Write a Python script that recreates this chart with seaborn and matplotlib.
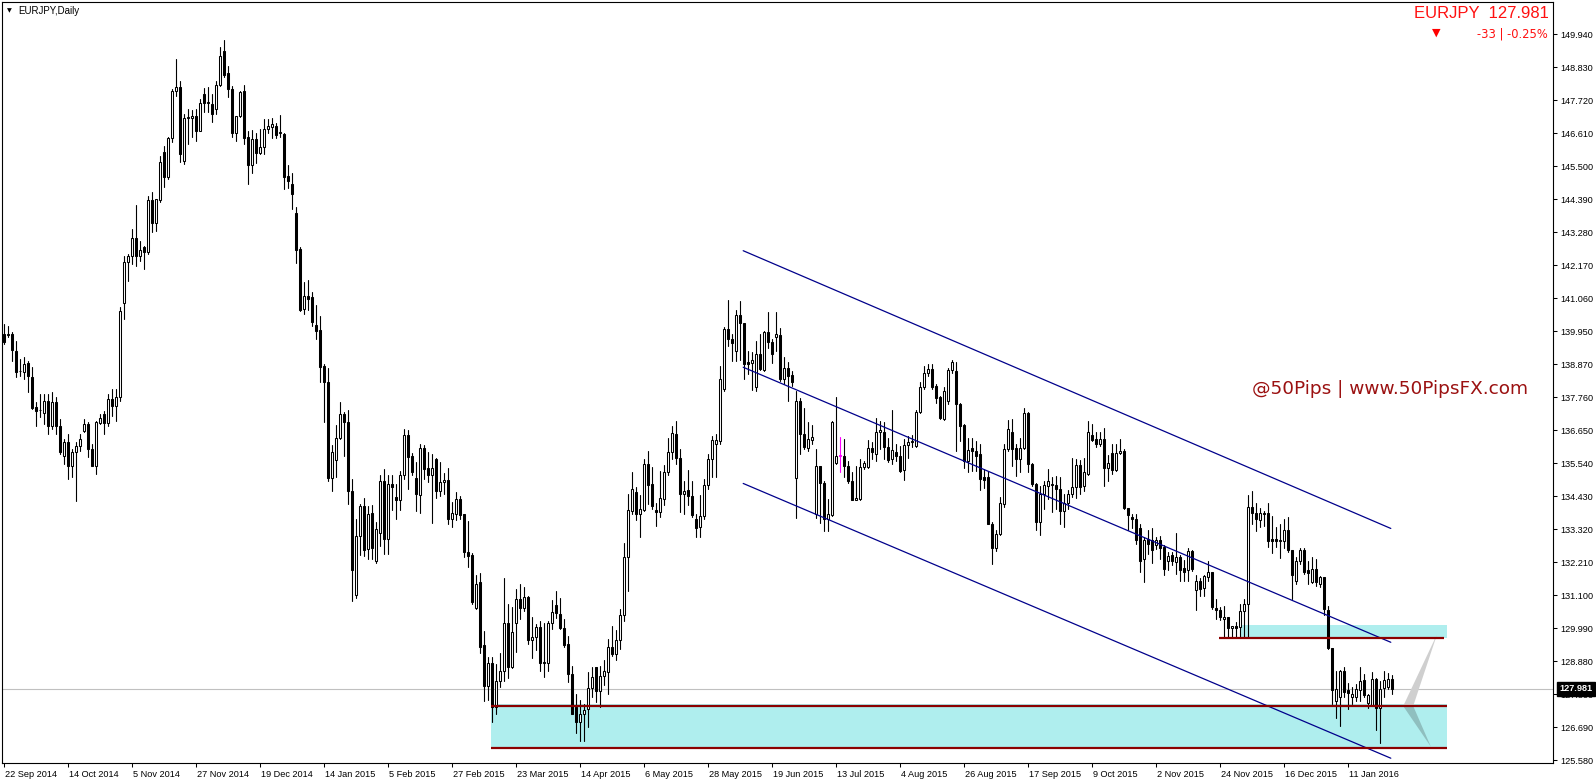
import numpy as np
import pandas as pd
import matplotlib
matplotlib.use("Agg")
import matplotlib.pyplot as plt
import matplotlib.transforms as mtransforms
from matplotlib.patches import Polygon
import seaborn as sns

# ---------------- data (EURJPY daily) ----------------
opens = [
    139.88, 139.84, 139.88, 139.33, 138.63, 138.60, 138.90, 138.43, 137.42, 137.32,
    137.23, 137.65, 136.81, 137.59, 136.81, 135.80, 136.25, 135.47, 135.91, 136.14,
    136.64, 136.86, 136.03, 135.47, 136.89, 137.20, 136.89, 137.70, 137.48, 137.78,
    140.93, 142.29, 142.51, 143.10, 142.51, 142.79, 142.62, 144.38, 143.60, 144.38,
    145.98, 145.16, 146.46, 148.05, 148.18, 145.70, 147.13, 147.13, 147.21, 146.71,
    147.94, 147.63, 147.60, 147.43, 148.25, 149.39, 148.63, 148.11, 146.62, 147.21,
    148.05, 146.51, 145.57, 146.42, 145.96, 146.15, 146.77, 146.84, 146.86, 146.62,
    146.60, 145.19, 144.93, 143.94, 142.75, 140.73, 141.16, 141.12, 140.18, 140.03,
    138.81, 138.29, 135.04, 135.66, 136.40, 137.20, 136.94, 134.60, 131.14, 133.09,
    134.12, 132.68, 133.89, 132.26, 133.22, 134.95, 132.99, 134.86, 134.41, 134.31,
    135.15, 136.49, 135.79, 135.04, 134.48, 136.05, 135.38, 135.17, 135.68, 134.63,
    134.92, 134.99, 133.67, 133.86, 134.35, 133.84, 132.58, 132.48, 130.69, 131.55,
    129.46, 128.08, 128.86, 127.38, 128.25, 128.56, 130.20, 128.70, 130.20, 130.99,
    130.69, 131.07, 129.61, 129.72, 130.04, 128.88, 128.86, 130.20, 130.80, 130.49,
    130.01, 129.48, 128.49, 127.38, 126.88, 127.15, 127.30, 128.02, 128.70, 127.91,
    128.42, 128.53, 129.39, 129.14, 129.61, 130.46, 132.41, 133.95, 134.57, 133.86,
    133.97, 135.52, 134.85, 133.97, 133.90, 134.34, 135.27, 135.91, 136.53, 135.72,
    134.53, 134.64, 134.46, 133.67, 133.42, 133.78, 134.82, 135.69, 136.21, 136.28,
    138.03, 140.05, 139.71, 139.30, 140.53, 140.24, 138.93, 138.90, 138.11, 139.21,
    138.67, 139.94, 139.63, 139.79, 139.86, 138.37, 138.74, 138.52, 135.05, 137.64,
    136.52, 136.05, 136.32, 133.84, 135.46, 134.90, 133.67, 133.82, 135.54, 135.78,
    135.80, 135.46, 134.96, 134.31, 134.34, 135.41, 135.41, 136.05, 135.85, 136.61,
    136.61, 136.10, 135.69, 135.91, 135.80, 135.32, 136.17, 136.25, 136.13, 137.28,
    138.11, 138.56, 138.70, 138.14, 137.77, 137.03, 137.62, 138.67, 138.65, 137.55,
    136.84, 135.63, 136.05, 135.96, 135.85, 135.07, 135.07, 133.52, 132.72, 133.17,
    134.17, 136.02, 136.58, 136.05, 135.68, 136.05, 137.22, 135.52, 134.84, 133.56,
    134.51, 134.79, 134.82, 134.82, 134.68, 133.95, 134.20, 134.53, 134.75, 135.49,
    134.79, 135.20, 136.50, 136.35, 136.21, 136.35, 135.40, 135.90, 135.32, 135.90,
    135.96, 134.04, 133.73, 133.67, 133.39, 132.33, 133.00, 132.97, 132.82, 132.97,
    132.75, 132.26, 132.48, 132.22, 132.41, 132.03, 131.97, 132.59, 131.30, 131.61,
    131.36, 131.72, 131.89, 130.69, 130.62, 130.32, 130.38, 130.02, 130.07, 130.04,
    130.60, 130.83, 134.09, 133.87, 133.65, 133.87, 133.87, 133.01, 133.01, 132.93,
    132.95, 133.31, 132.62, 131.59, 132.28, 132.64, 131.97, 131.55, 132.00, 131.50,
    131.72, 130.62, 129.35, 127.58, 127.69, 128.59, 127.94, 127.69, 127.69, 127.94,
    128.28, 127.49, 127.45, 128.30, 127.32, 128.00, 128.03, 128.30,
]
highs = [
    140.22, 140.16, 139.94, 139.66, 139.04, 139.10, 138.99, 138.77, 137.59, 137.87,
    137.87, 137.87, 137.93, 137.76, 137.03, 136.36, 136.53, 136.03, 136.25, 136.53,
    137.03, 136.92, 136.19, 136.98, 137.20, 137.31, 137.87, 138.04, 138.04, 140.78,
    142.51, 142.57, 143.41, 144.22, 143.02, 142.85, 144.53, 144.64, 144.42, 145.87,
    146.20, 146.48, 148.11, 149.11, 148.39, 147.27, 147.43, 147.40, 147.43, 147.77,
    148.14, 148.18, 147.94, 148.36, 149.50, 149.75, 148.89, 148.22, 147.21, 148.05,
    148.24, 146.70, 146.73, 146.64, 146.77, 147.09, 147.11, 147.15, 146.96, 147.22,
    146.64, 145.55, 145.29, 144.14, 142.79, 141.63, 141.70, 141.31, 140.86, 140.48,
    138.87, 138.74, 136.17, 136.82, 137.61, 137.26, 137.33, 135.02, 133.67, 134.18,
    134.38, 134.12, 134.14, 133.58, 135.17, 135.34, 135.17, 135.15, 134.86, 135.30,
    136.69, 136.66, 135.89, 135.60, 136.20, 136.15, 135.92, 135.85, 135.72, 135.60,
    135.21, 135.38, 134.25, 134.57, 134.44, 133.86, 133.60, 132.55, 131.80, 131.88,
    129.93, 129.03, 129.05, 128.81, 129.17, 131.71, 130.84, 130.71, 131.32, 131.49,
    131.40, 131.10, 130.40, 130.15, 130.24, 130.20, 130.24, 130.95, 131.27, 131.04,
    130.32, 129.76, 128.75, 127.80, 127.60, 127.46, 128.53, 128.70, 128.72, 128.75,
    128.94, 129.65, 130.09, 129.95, 130.65, 132.86, 134.51, 135.24, 134.74, 134.49,
    135.69, 135.97, 135.41, 134.23, 135.29, 135.50, 136.39, 136.80, 136.95, 136.02,
    134.96, 135.32, 134.96, 133.84, 134.49, 135.02, 135.85, 136.47, 136.53, 138.82,
    140.13, 141.02, 139.88, 140.69, 141.00, 140.27, 139.30, 139.27, 139.66, 139.88,
    139.97, 140.64, 139.71, 140.61, 140.10, 139.12, 138.93, 138.65, 137.98, 137.73,
    137.40, 136.92, 136.84, 136.02, 135.46, 134.96, 134.34, 136.97, 137.78, 136.43,
    136.36, 135.63, 135.24, 135.46, 135.69, 135.63, 136.32, 136.25, 137.08, 136.97,
    136.92, 136.41, 137.33, 136.19, 136.13, 136.36, 136.47, 136.50, 137.33, 138.26,
    138.82, 138.87, 138.87, 138.20, 137.81, 138.09, 138.74, 139.01, 138.93, 137.58,
    136.86, 136.39, 136.39, 136.30, 136.19, 135.35, 135.29, 133.56, 133.30, 134.40,
    136.19, 136.99, 137.02, 136.19, 136.41, 137.40, 137.28, 135.57, 134.90, 134.79,
    134.96, 135.35, 135.07, 135.12, 135.07, 134.51, 134.64, 135.71, 135.68, 135.65,
    135.71, 136.95, 136.88, 136.61, 136.58, 136.72, 135.83, 136.19, 136.19, 136.35,
    136.02, 134.06, 133.86, 133.84, 133.52, 133.06, 133.30, 133.38, 133.06, 133.12,
    132.82, 132.56, 132.56, 133.20, 132.48, 132.30, 132.70, 132.62, 131.81, 131.70,
    131.81, 132.28, 131.89, 130.99, 130.71, 130.77, 130.38, 130.10, 130.21, 130.83,
    130.99, 134.49, 134.61, 134.20, 134.05, 133.96, 134.20, 133.79, 133.40, 133.51,
    133.68, 133.73, 132.62, 132.39, 132.70, 132.70, 132.28, 132.41, 132.34, 131.78,
    131.72, 130.77, 129.35, 128.59, 128.61, 128.72, 128.16, 128.03, 128.14, 128.70,
    128.48, 127.80, 128.53, 128.35, 128.25, 128.59, 128.50, 128.45,
]
lows = [
    139.55, 139.77, 138.99, 138.43, 138.49, 138.37, 137.93, 137.37, 136.81, 137.09,
    136.86, 136.53, 136.70, 136.53, 135.86, 135.52, 135.02, 135.07, 134.29, 135.97,
    136.58, 135.75, 135.47, 135.19, 136.86, 136.53, 136.81, 137.14, 136.98, 137.65,
    140.39, 141.67, 142.23, 142.18, 142.35, 142.07, 142.57, 143.30, 143.35, 144.30,
    144.81, 145.09, 146.32, 147.88, 145.65, 145.59, 146.26, 146.48, 146.37, 146.71,
    147.32, 147.32, 146.99, 147.27, 148.22, 148.50, 147.83, 146.48, 146.37, 147.16,
    146.25, 144.91, 145.29, 145.61, 145.93, 145.93, 146.64, 146.45, 146.45, 146.51,
    144.75, 144.78, 144.07, 142.27, 140.67, 140.54, 140.69, 140.15, 139.71, 138.29,
    136.94, 134.95, 134.63, 135.08, 136.37, 135.79, 134.18, 130.93, 131.04, 132.48,
    132.45, 132.32, 132.32, 132.20, 132.77, 132.51, 132.51, 133.99, 133.67, 133.99,
    135.02, 134.70, 135.15, 133.93, 133.89, 135.02, 134.92, 133.54, 134.38, 134.44,
    134.50, 133.50, 133.41, 133.63, 133.67, 132.39, 132.07, 130.84, 130.65, 129.17,
    127.58, 127.60, 126.85, 127.13, 128.05, 128.25, 128.34, 128.67, 129.23, 130.32,
    130.60, 129.48, 129.01, 129.28, 128.56, 128.36, 128.56, 129.98, 130.37, 129.98,
    129.37, 128.20, 127.13, 126.48, 126.23, 126.23, 126.70, 127.71, 127.55, 127.38,
    128.11, 127.82, 129.09, 128.94, 129.31, 130.26, 131.27, 133.86, 133.64, 133.06,
    133.95, 134.18, 134.01, 133.45, 133.73, 134.15, 135.16, 135.69, 135.52, 133.90,
    133.86, 134.15, 133.73, 133.06, 133.06, 133.67, 134.67, 135.07, 135.09, 136.19,
    137.98, 139.49, 138.99, 138.99, 139.01, 138.37, 138.54, 138.00, 137.97, 138.67,
    138.63, 139.43, 138.90, 139.30, 138.31, 138.22, 137.64, 138.15, 133.71, 135.85,
    136.02, 135.97, 136.19, 133.71, 133.53, 133.28, 133.26, 133.78, 135.52, 135.24,
    135.07, 134.90, 134.31, 134.30, 134.30, 135.35, 135.38, 135.69, 135.63, 136.02,
    135.69, 135.58, 135.52, 135.63, 135.24, 134.98, 135.74, 136.08, 136.08, 137.25,
    138.04, 138.48, 138.03, 137.58, 137.03, 136.99, 137.53, 138.59, 135.96, 136.30,
    135.40, 135.24, 135.29, 135.30, 134.64, 134.73, 133.50, 132.18, 132.60, 133.14,
    134.08, 135.96, 135.46, 135.12, 135.24, 136.02, 135.24, 134.79, 133.30, 133.15,
    134.01, 134.34, 133.90, 134.01, 133.52, 133.41, 134.00, 134.42, 134.38, 134.53,
    134.62, 135.16, 136.28, 136.08, 136.13, 134.79, 134.96, 135.20, 135.29, 135.85,
    134.01, 133.30, 133.39, 132.83, 131.91, 131.55, 132.50, 132.19, 132.67, 132.35,
    131.81, 131.97, 132.15, 131.83, 131.61, 131.59, 131.61, 131.94, 130.62, 131.10,
    131.10, 131.61, 130.66, 130.32, 130.29, 129.73, 129.71, 129.71, 129.71, 129.71,
    129.71, 129.71, 133.51, 133.29, 133.40, 133.45, 132.73, 132.53, 132.73, 132.37,
    132.70, 132.56, 130.99, 131.50, 132.17, 131.83, 131.50, 131.52, 131.44, 131.39,
    130.44, 129.32, 127.47, 127.00, 126.74, 127.69, 127.30, 127.47, 127.58, 127.58,
    127.72, 127.33, 127.40, 126.60, 126.15, 127.69, 127.97, 127.80,
]
closes = [
    139.60, 139.86, 139.35, 138.60, 138.65, 138.88, 138.49, 137.40, 137.29, 137.34,
    137.65, 136.81, 137.59, 136.81, 135.91, 136.25, 135.47, 135.91, 136.14, 136.36,
    136.86, 136.03, 135.47, 136.92, 137.06, 136.89, 137.70, 137.48, 137.78, 140.67,
    142.29, 142.51, 143.10, 142.51, 142.70, 142.62, 144.38, 143.60, 144.42, 145.65,
    145.16, 146.46, 148.05, 148.16, 145.92, 147.13, 147.16, 147.21, 146.71, 147.63,
    147.63, 147.65, 147.27, 148.25, 149.22, 148.59, 148.11, 146.62, 147.21, 147.99,
    146.45, 145.57, 146.42, 145.96, 146.15, 146.77, 146.86, 146.94, 146.55, 146.64,
    145.16, 145.03, 144.58, 142.72, 140.69, 141.16, 141.05, 140.28, 140.00, 138.77,
    138.29, 135.04, 135.92, 136.40, 137.20, 136.94, 134.63, 131.96, 133.09, 134.12,
    132.64, 133.86, 132.71, 133.35, 134.95, 132.99, 134.86, 134.76, 134.31, 135.15,
    136.49, 135.76, 135.25, 134.50, 136.05, 135.34, 135.17, 135.40, 134.63, 134.92,
    134.99, 133.67, 133.89, 134.35, 133.80, 132.58, 132.45, 130.88, 131.51, 129.39,
    128.08, 128.86, 127.38, 128.25, 128.58, 130.20, 128.70, 129.90, 130.99, 130.69,
    131.07, 129.61, 129.72, 130.04, 128.86, 128.84, 130.20, 130.54, 130.51, 130.01,
    129.46, 128.49, 127.15, 126.88, 127.15, 127.26, 128.02, 128.38, 127.89, 128.42,
    128.58, 129.39, 129.14, 129.61, 130.46, 132.41, 133.97, 134.68, 133.86, 134.01,
    135.52, 134.82, 134.12, 133.90, 134.38, 135.27, 135.91, 136.55, 135.72, 134.53,
    134.62, 134.46, 133.82, 133.39, 133.78, 134.82, 135.69, 136.32, 136.32, 138.37,
    140.05, 139.71, 139.57, 140.53, 140.24, 138.87, 138.87, 139.01, 139.21, 138.71,
    139.94, 139.63, 139.23, 139.90, 138.37, 138.74, 138.48, 138.29, 137.64, 136.52,
    136.08, 136.36, 136.44, 135.46, 134.90, 133.67, 133.84, 136.92, 135.80, 135.80,
    135.46, 134.96, 134.31, 134.38, 135.43, 135.54, 136.05, 135.94, 136.61, 136.66,
    136.08, 135.65, 135.99, 135.80, 135.30, 136.17, 136.25, 136.28, 137.28, 138.11,
    138.56, 138.71, 138.09, 137.75, 137.06, 137.98, 138.67, 138.96, 137.53, 136.80,
    135.63, 135.99, 135.96, 135.80, 135.01, 134.98, 133.52, 132.72, 133.17, 134.20,
    136.02, 136.69, 136.02, 135.68, 136.05, 137.22, 135.52, 134.84, 133.56, 134.51,
    134.82, 134.96, 134.86, 134.68, 133.95, 134.20, 134.53, 134.75, 135.49, 134.75,
    135.24, 136.58, 136.32, 136.21, 136.35, 135.40, 135.57, 135.32, 135.90, 135.96,
    134.04, 133.82, 133.67, 132.97, 132.27, 132.97, 132.83, 132.64, 132.97, 132.70,
    132.00, 132.45, 132.26, 132.41, 131.97, 131.89, 132.59, 132.00, 131.61, 131.33,
    131.78, 131.89, 130.71, 130.62, 130.38, 130.38, 130.02, 130.10, 130.02, 130.60,
    130.83, 134.09, 133.87, 133.68, 133.87, 133.83, 132.93, 132.93, 132.95, 132.98,
    133.31, 132.62, 131.81, 132.28, 132.64, 131.89, 131.85, 132.00, 131.55, 131.72,
    130.66, 129.35, 127.94, 127.97, 128.59, 127.86, 127.83, 127.80, 127.97, 128.23,
    127.77, 127.77, 128.30, 127.32, 127.96, 128.28, 128.30, 127.981,
]
special_bar = 209  # the magenta candle

xtick_bars = list(range(0, 337, 16))
xtick_labels = ["22 Sep 2014", "14 Oct 2014", "5 Nov 2014", "27 Nov 2014", "19 Dec 2014",
                "14 Jan 2015", "5 Feb 2015", "27 Feb 2015", "23 Mar 2015", "14 Apr 2015",
                "6 May 2015", "28 May 2015", "19 Jun 2015", "13 Jul 2015", "4 Aug 2015",
                "26 Aug 2015", "17 Sep 2015", "9 Oct 2015", "2 Nov 2015", "24 Nov 2015",
                "16 Dec 2015", "11 Jan 2016"]
ytick_labels = ["149.940", "148.830", "147.720", "146.610", "145.500", "144.390", "143.280",
                "142.170", "141.060", "139.950", "138.870", "137.760", "136.650", "135.540",
                "134.430", "133.320", "132.210", "131.100", "129.990", "128.880", "127.800",
                "126.690", "125.580"]

# channel (three parallel lines)
channel_bars = [184.8, 346.7]
channel_upper = [142.68, 133.36]
channel_mid = [138.77, 129.54]
channel_low = [134.87, 125.65]

# zones and levels
support_zone = dict(x0=121.75, x1=360.75, lo=125.95, hi=127.46)
resist_zone = dict(x0=309.0, x1=360.8, lo=129.68, hi=130.12)
level_prices = [127.40, 126.00, 129.68]
level_start = [121.75, 121.75, 303.8]
level_end = [360.75, 360.75, 360.0]

# projection wedges (bar, price)
wedge_up = [(349.8, 127.40), (352.3, 127.40), (358.3, 129.82)]
wedge_down = [(349.8, 127.40), (352.3, 127.40), (356.7, 126.04)]

last_price = 127.981
header_title = "EURJPY  127.981"
header_change = "-33 | -0.25%"
chart_name = "EURJPY,Daily"
watermark = "@50Pips | www.50PipsFX.com"

# ---------------- figure ----------------
sns.set_style("white")
plt.rcParams['font.family'] = ['Liberation Sans', 'DejaVu Sans']

W, H = 1596, 784
fig = plt.figure(figsize=(W / 100, H / 100), dpi=100)
fig.patch.set_facecolor("white")
ax = fig.add_axes([2 / W, 1 - 763.3 / H, (1553 - 2) / W, (763.3 - 2) / H])
ax.set_facecolor("white")

n = len(closes)
df = pd.DataFrame({"bar": np.arange(n), "open": opens, "high": highs,
                   "low": lows, "close": closes})
df["kind"] = "normal"
df.loc[special_bar, "kind"] = "special"

# zones
for z in (support_zone, resist_zone):
    ax.fill_between([z["x0"], z["x1"]], z["lo"], z["hi"], color="#AFEEEE", lw=0, zorder=1)

# current price line
ax.axhline(last_price, color="#C0C0C0", lw=0.8, zorder=1.5)

# wicks
wick = pd.concat([
    df[["bar", "kind"]].assign(price=df["low"]),
    df[["bar", "kind"]].assign(price=df["high"]),
])
sns.lineplot(data=wick, x="bar", y="price", units="bar", estimator=None, hue="kind",
             palette={"normal": "black", "special": "#FF00FF"}, lw=0.8,
             legend=False, ax=ax, zorder=3, sort=False)

# bodies
o = df["open"].to_numpy()
c = df["close"].to_numpy()
bottom = np.minimum(o, c)
height = np.maximum(np.abs(c - o), 0.03)
face = np.where(c > o, "white", "black").astype(object)
edge = np.array(["black"] * n, dtype=object)
face[special_bar] = "#FF00FF"
edge[special_bar] = "#FF00FF"
ax.bar(df["bar"], height, bottom=bottom, width=0.5, color=list(face),
       edgecolor=list(edge), linewidth=0.75, zorder=4)

# channel lines
ch = pd.DataFrame({
    "bar": channel_bars * 3,
    "price": channel_upper + channel_mid + channel_low,
    "line": ["upper"] * 2 + ["mid"] * 2 + ["low"] * 2,
})
sns.lineplot(data=ch, x="bar", y="price", units="line", estimator=None,
             color="#00008B", lw=0.9, ax=ax, zorder=5, legend=False)

# horizontal levels
ax.hlines(level_prices, level_start, level_end, colors="#8B0000", lw=1.6, zorder=5)

# wedges
ax.add_patch(Polygon(wedge_up, closed=True, fc="#CFCFCF", ec="none", zorder=4.5))
ax.add_patch(Polygon(wedge_down, closed=True, fc="#8FBFBF", ec="none", zorder=4.5))

# axes
ax.set_xlim(-0.5, 387.25)
ax.set_ylim(125.479, 151.026)
ax.set_xlabel("")
ax.set_ylabel("")
ax.yaxis.tick_right()
ax.set_yticks(np.linspace(149.94, 125.58, len(ytick_labels)))
ax.set_yticklabels(ytick_labels)
ax.set_xticks(xtick_bars)
ax.set_xticklabels(xtick_labels)
ax.tick_params(axis="both", which="both", direction="out", length=3, width=0.75,
               color="black", labelcolor="black", labelsize=6.6)
ax.tick_params(axis="x", bottom=True, top=False, pad=1.5)
ax.tick_params(axis="y", right=True, left=False, labelright=True, labelleft=False, pad=2.5)
offset = mtransforms.ScaledTranslation(1.0 / 100, 0, fig.dpi_scale_trans)
for lab in ax.get_xticklabels():
    lab.set_horizontalalignment("left")
    lab.set_transform(lab.get_transform() + offset)
for s in ax.spines.values():
    s.set_visible(True)
    s.set_color("black")
    s.set_linewidth(0.8)
ax.grid(False)

# current price box on the axis
trans = mtransforms.blended_transform_factory(ax.transAxes, ax.transData)
ax.text(1 + 6.5 / 1551, last_price, "127.981", transform=trans, ha="left", va="center",
        color="white", fontsize=6.6, fontweight="bold", clip_on=False, zorder=10,
        bbox=dict(boxstyle="square,pad=0.25", fc="black", ec="black"))

# header texts
fig.text(1549 / W, 1 - 13.5 / H, header_title, ha="right", va="center",
         color="#FF1010", fontsize=12)
fig.text(1548 / W, 1 - 33.5 / H, header_change, ha="right", va="center",
         color="#FF1010", fontsize=8.3, family=["DejaVu Sans"])
fig.text(1436.7 / W, 1 - 33 / H, "\u25BC", ha="center", va="center",
         color="#FF0000", fontsize=8, family=["DejaVu Sans"])
fig.text(18 / W, 1 - 11 / H, chart_name, ha="left", va="center", color="black", fontsize=7)
fig.text(9 / W, 1 - 11 / H, "\u25BC", ha="center", va="center", color="black",
         fontsize=4.5, family=["DejaVu Sans"])
fig.text(1252 / W, 1 - 389 / H, watermark, ha="left", va="center",
         color="#9B1111", fontsize=13.3, family=["DejaVu Sans"])

fig.savefig("out.png", dpi=100, facecolor="white")
